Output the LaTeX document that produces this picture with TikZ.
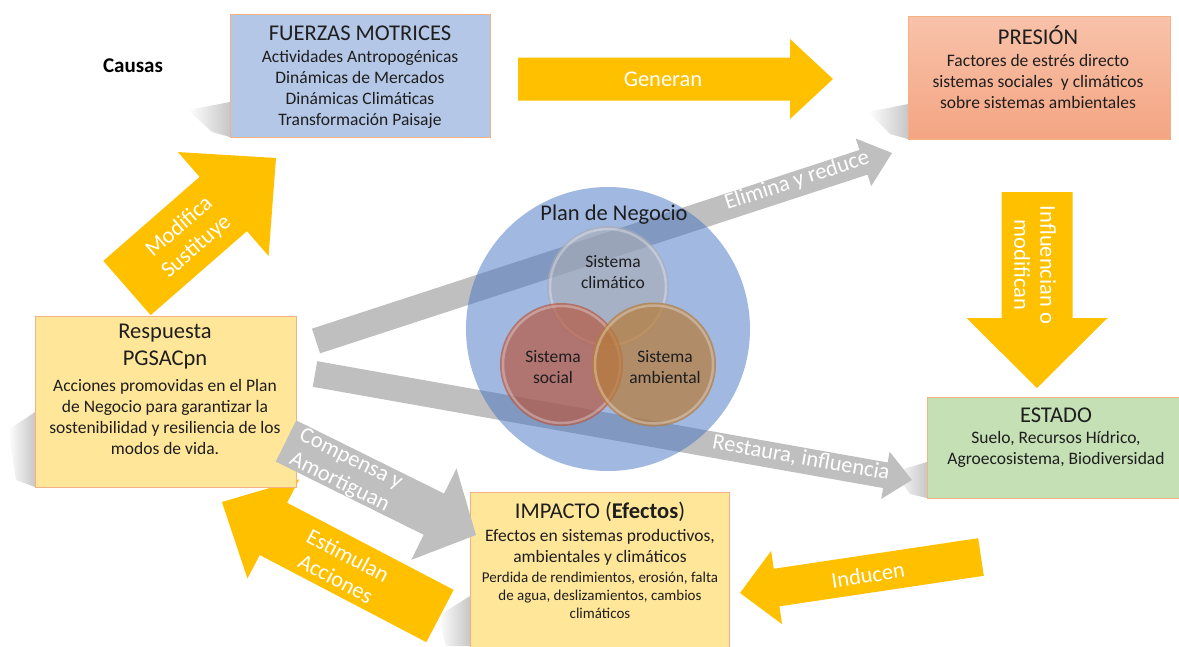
\documentclass[tikz,border=0pt]{standalone}
\usepackage{fontspec}
\setmainfont{Carlito}
\usetikzlibrary{calc}

\definecolor{ink}{HTML}{1E1E1E}
\definecolor{boxline}{HTML}{F4B183}
\definecolor{fmblue}{HTML}{B4C7E7}
\definecolor{presTop}{RGB}{248,194,170}
\definecolor{presBot}{RGB}{244,165,130}
\definecolor{estgreen}{HTML}{C5E0B4}
\definecolor{impyellow}{HTML}{FFE699}
\definecolor{arrowyellow}{HTML}{FFC000}
\definecolor{arrowgray}{HTML}{BFBFBF}
\definecolor{planblue}{HTML}{4472C4}
\definecolor{climgray}{RGB}{170,172,180}
\definecolor{socred}{RGB}{182,88,66}
\definecolor{ambbrown}{RGB}{182,124,58}

% block arrow: tail, tip, half shaft, half head, head length, style
\newcommand{\blockarrow}[6]{%
  \path ($(#2)!#5!(#1)$) coordinate (ba-c);
  \fill[#6] ($(#1)!#3!90:(#2)$) -- ($(ba-c)!#3!90:(#2)$) -- ($(ba-c)!#4!90:(#2)$)
    -- (#2) -- ($(ba-c)!#4!-90:(#2)$) -- ($(ba-c)!#3!-90:(#2)$)
    -- ($(#1)!#3!-90:(#2)$) -- cycle;}

\begin{document}
\begin{tikzpicture}[x=1pt, y=-1pt,
  box/.style={draw=boxline, line width=0.8pt, inner sep=0pt},
  head/.style={font=\fontsize{22.5}{27}\selectfont, text=ink, align=center, inner sep=0pt},
  body/.style={font=\fontsize{17.5}{21}\selectfont, text=ink, align=center, inner sep=0pt},
  small/.style={font=\fontsize{15}{18}\selectfont, text=ink, align=center, inner sep=0pt},
  lbl/.style={font=\fontsize{22.5}{26}\selectfont, text=white, align=center, inner sep=0pt},
  yarrow/.style={fill=arrowyellow},
  garrow/.style={fill=arrowgray},
  pshade/.style={left color=white, right color=black!22, draw=none},
  glass/.style={draw=white, draw opacity=0.3, line width=2.5pt}]
  \useasboundingbox (0,0) rectangle (1179,646);
  \clip (0,0) rectangle (1179,646);

  % perspective shadows
  \shade[pshade] (230,102) -- (188,110) -- (212,132) -- (230,137) -- cycle;
  \shade[pshade] (908,104) -- (868,112) -- (890,134) -- (908,139) -- cycle;
  \shade[pshade] (927,462) -- (894,472) -- (910,494) -- (927,498) -- cycle;
  \shade[pshade] (35,412) -- (8,430) -- (16,480) -- (35,487) -- cycle;
  \shade[pshade] (470,596) -- (438,616) -- (446,646) -- (470,646) -- cycle;

  % yellow arrows
  \coordinate (gen-s) at (518,79);   \coordinate (gen-e) at (833,79);
  \coordinate (inf-s) at (1037,192); \coordinate (inf-e) at (1037,388);
  \coordinate (ind-s) at (981,557);  \coordinate (ind-e) at (740,593);
  \coordinate (est-s) at (440,616);  \coordinate (est-e) at (222,502);
  \coordinate (mod-s) at (127,288);  \coordinate (mod-e) at (276,158);
  \blockarrow{gen-s}{gen-e}{21.5pt}{40pt}{43pt}{yarrow}
  \blockarrow{inf-s}{inf-e}{35.5pt}{70.5pt}{70pt}{yarrow}
  \blockarrow{ind-s}{ind-e}{19pt}{37pt}{37pt}{yarrow}
  \blockarrow{est-s}{est-e}{29.5pt}{56pt}{58pt}{yarrow}
  \blockarrow{mod-s}{mod-e}{36pt}{69pt}{70pt}{yarrow}

  % boxes
  \node[box, fill=fmblue, minimum width=260pt, minimum height=123pt] (fuerzas) at (360,75.5) {};
  \node[box, top color=presTop, bottom color=presBot, minimum width=262pt, minimum height=123pt] (presion) at (1039,77.5) {};
  \node[box, fill=estgreen, minimum width=253pt, minimum height=101pt] (estado) at (1053.5,447.5) {};
  \node[box, fill=impyellow, minimum width=261pt, minimum height=171pt] (respuesta) at (165.5,401.5) {};
  \node[box, fill=impyellow, minimum width=259pt, minimum height=170pt] (impacto) at (599.5,577) {};

  % gray arrows
  \coordinate (eli-s) at (316,341);  \coordinate (eli-e) at (892,153);
  \coordinate (res-s) at (315,374);  \coordinate (res-e) at (912,480);
  \coordinate (com-s) at (286,441);  \coordinate (com-e) at (476,535);
  \blockarrow{eli-s}{eli-e}{13pt}{25pt}{30pt}{garrow}
  \blockarrow{res-s}{res-e}{13pt}{24pt}{27pt}{garrow}
  \blockarrow{com-s}{com-e}{23pt}{51pt}{47pt}{garrow}

  % Plan de Negocio
  \fill[planblue, opacity=0.5] (608,329) circle (142pt);
  \fill[climgray, opacity=0.6] (608,287) circle (61pt);
  \draw[glass] (608,287) circle (58pt);
  \fill[socred, opacity=0.7] (561.5,364.5) circle (61.5pt);
  \draw[glass] (561.5,364.5) circle (58.5pt);
  \fill[ambbrown, opacity=0.72] (654,364.5) circle (62pt);
  \draw[glass] (654,364.5) circle (59pt);

  % texts
  \node[font=\fontsize{21}{25}\selectfont\bfseries, text=black] (causas) at (133,66) {Causas};
  \node[head] (fuerzas-t) at (360,33) {FUERZAS MOTRICES};
  \node[body] (fuerzas-b) at (360,89.5) {Actividades Antropogénicas\\Dinámicas de Mercados\\Dinámicas Climáticas\\Transformación Paisaje};
  \node[head] (presion-t) at (1038,35) {PRESIÓN};
  \node[body] (presion-b) at (1038,81) {Factores de estrés directo\\sistemas sociales~ y climáticos\\sobre sistemas ambientales};
  \node[head] (estado-t) at (1056,415) {ESTADO};
  \node[body] (estado-b) at (1056,449.5) {Suelo, Recursos Hídrico,\\Agroecosistema, Biodiversidad};
  \node[head] (respuesta-t) at (165,346.5) {Respuesta\\PGSACpn};
  \node[body] (respuesta-b) at (165,417) {Acciones promovidas en el Plan\\de Negocio para garantizar la\\sostenibilidad y resiliencia de los\\modos de vida.};
  \node[head] (impacto-t) at (600,512) {IMPACTO (\textbf{Efectos})};
  \node[body] (impacto-b) at (600,547) {Efectos en sistemas productivos,\\ambientales y climáticos};
  \node[small] (impacto-s) at (600,595) {Perdida de rendimientos, erosión, falta\\de agua, deslizamientos, cambios\\climáticos};
  \node[head] (plan) at (614,215) {Plan de Negocio};
  \node[body] (clima) at (613,272) {Sistema\\climático};
  \node[body] (social) at (553,367) {Sistema\\social};
  \node[body] (ambiental) at (665,367) {Sistema\\ambiental};

  % arrow labels
  \node[lbl] (generan) at (663,79) {Generan};
  \node[lbl, rotate=-90] (influencian) at (1035,265) {Influencian o\\modifican};
  \node[lbl, rotate=8.5] (inducen) at (868,575) {Inducen};
  \node[lbl, rotate=-28] (estimulan) at (342,567) {Estimulan\\Acciones};
  \node[lbl, rotate=41] (modifica) at (188,237) {Modifica\\Sustituye};
  \node[lbl, rotate=18] (elimina) at (797,181) {Elimina y reduce};
  \node[lbl, rotate=-10] (restaura) at (801,458) {Restaura, influencia};
  \node[lbl, rotate=-26] (compensa) at (345,471) {Compensa y\\Amortiguan};
\end{tikzpicture}
\end{document}
